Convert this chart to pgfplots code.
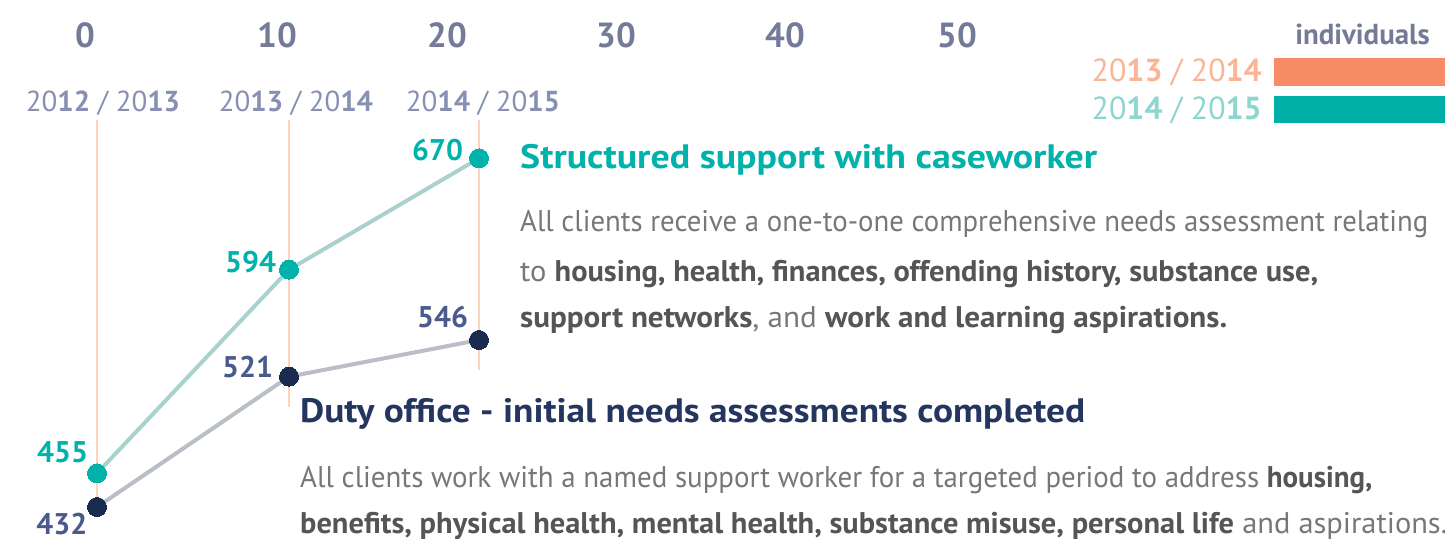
\documentclass[border=0pt]{standalone}
\usepackage{pgfplots}
\pgfplotsset{compat=1.18}
\usepackage{pgfplotstable}
\usepackage{fontspec}
\setmainfont{PT Sans}

\definecolor{tealmark}{HTML}{00B2A9}
\definecolor{tealline}{HTML}{A9D2CF}
\definecolor{navymark}{HTML}{1A2B50}
\definecolor{navyline}{HTML}{B9BEC7}
\definecolor{navytext}{HTML}{4A5A8C}
\definecolor{navytitle}{HTML}{243560}
\definecolor{tickc}{HTML}{737B98}
\definecolor{yearc}{HTML}{8790B3}
\definecolor{guide}{HTML}{FCD3BD}
\definecolor{bodyc}{HTML}{777777}
\definecolor{bodyb}{HTML}{555555}
\definecolor{salmonbar}{HTML}{F58C63}
\definecolor{salmontxt}{HTML}{F9B596}
\definecolor{tealbar}{HTML}{00B0A6}
\definecolor{tealtxt}{HTML}{8DD5CF}

% x in pixels, y in individuals; \Y turns a pixel row into a y value
\newcommand\Y[1]{778.05-#1/1.4651}
\newcommand\fs[1]{\fontsize{#1}{#1}\selectfont}

\pgfplotstableread{
x   y   lab dx    dy
97  455 455 -9    21.6
289 594 594 -13   8
479 670 670 -16   8.6
}\structured
\pgfplotstableread{
x   y   lab dx    dy
97  432 432 -9.7  -17
289 521 521 -16   9.3
479 546 546 -11   23.3
}\duty

\begin{document}
\begin{tikzpicture}
\begin{axis}[width=1445bp, height=552bp, scale only axis,
  xmin=0, xmax=1445, ymin=401.3, ymax=778.05,
  axis x line*=top, axis y line=none, x axis line style={draw=none},
  major tick length=0pt,
  xtick={85,277,447,616,785,957}, xticklabels={0,10,20,30,40,50},
  xticklabel style={anchor=center, yshift=-35bp, font=\bfseries\fs{35}, text=tickc},
  clip=false,
  every node near coord/.append style={anchor=east, inner sep=0pt,
    xshift=\dx bp, yshift=\dy bp, font=\bfseries\fs{30}},
  visualization depends on={\thisrow{dx} \as \dx},
  visualization depends on={\thisrow{dy} \as \dy}]

% year guides
\draw[guide, line width=2bp] (axis cs:97,{\Y{120}}) -- (axis cs:97,{\Y{505}});
\draw[guide, line width=2bp] (axis cs:289,{\Y{120}}) -- (axis cs:289,{\Y{407}});
\draw[guide, line width=2bp] (axis cs:479,{\Y{120}}) -- (axis cs:479,{\Y{370}});

\addplot[navyline, line width=4bp, mark=*, mark size=9.5bp,
  mark options={fill=navymark, draw=navymark, line width=0pt},
  point meta=explicit symbolic, nodes near coords,
  nodes near coords style={text=navytext}]
  table[x=x, y=y, meta=lab] {\duty};
\addplot[tealline, line width=4bp, mark=*, mark size=9.5bp,
  mark options={fill=tealmark, draw=tealmark, line width=0pt},
  point meta=explicit symbolic, nodes near coords,
  nodes near coords style={text=tealmark}]
  table[x=x, y=y, meta=lab] {\structured};

% year labels
\node[anchor=base, inner sep=0pt, text=yearc, font=\fs{29}]
  at (axis cs:103,{\Y{112}}) {20{\bfseries 12} / 20{\bfseries 13}};
\node[anchor=base, inner sep=0pt, text=yearc, font=\fs{29}]
  at (axis cs:296,{\Y{112}}) {20{\bfseries 13} / 20{\bfseries 14}};
\node[anchor=base, inner sep=0pt, text=yearc, font=\fs{29}]
  at (axis cs:483,{\Y{112}}) {20{\bfseries 14} / 20{\bfseries 15}};

% legend
\node[anchor=base east, inner sep=0pt, text=tickc, font=\bfseries\fs{29}]
  at (axis cs:1430,{\Y{45}}) {individuals};
\fill[salmonbar] (axis cs:1274,{\Y{58}}) rectangle (axis cs:1445,{\Y{86}});
\fill[tealbar] (axis cs:1274,{\Y{96}}) rectangle (axis cs:1445,{\Y{123}});
\node[anchor=base east, inner sep=0pt, text=salmontxt, font=\fs{32}]
  at (axis cs:1262,{\Y{82}}) {20{\bfseries 13} / 20{\bfseries 14}};
\node[anchor=base east, inner sep=0pt, text=tealtxt, font=\fs{32}]
  at (axis cs:1262,{\Y{120}}) {20{\bfseries 14} / 20{\bfseries 15}};

% structured support text
\node[anchor=base west, inner sep=0pt, text=tealmark, font=\bfseries\fs{34}]
  at (axis cs:520,{\Y{168}}) {\resizebox{577bp}{\height}{Structured support with caseworker}};
\node[anchor=base west, inner sep=0pt, text=bodyc, font=\fs{30}]
  at (axis cs:520,{\Y{231}}) {\resizebox{908bp}{\height}{All clients receive a one-to-one comprehensive needs assessment relating}};
\node[anchor=base west, inner sep=0pt, text=bodyc, font=\fs{30}]
  at (axis cs:520,{\Y{281}}) {\resizebox{798bp}{\height}{to \textcolor{bodyb}{\bfseries housing, health, finances, offending history, substance use,}}};
\node[anchor=base west, inner sep=0pt, text=bodyc, font=\fs{30}]
  at (axis cs:520,{\Y{327}}) {\resizebox{707bp}{\height}{\textcolor{bodyb}{\bfseries support networks}, and \textcolor{bodyb}{\bfseries work and learning aspirations.}}};

% duty office text
\node[anchor=base west, inner sep=0pt, text=navytitle, font=\bfseries\fs{34}]
  at (axis cs:300,{\Y{422}}) {\resizebox{785bp}{\height}{Duty office - initial needs assessments completed}};
\node[anchor=base west, inner sep=0pt, text=bodyc, font=\fs{30}]
  at (axis cs:300,{\Y{487}}) {\resizebox{1072bp}{\height}{All clients work with a named support worker for a targeted period to address \textcolor{bodyb}{\bfseries housing,}}};
\node[anchor=base west, inner sep=0pt, text=bodyc, font=\fs{30}]
  at (axis cs:300,{\Y{533}}) {\resizebox{1147bp}{\height}{\textcolor{bodyb}{\bfseries benefits, physical health, mental health, substance misuse, personal life} and aspirations.}};
\end{axis}
\pgfresetboundingbox
\path[use as bounding box] (current axis.south west) rectangle (current axis.north east);
\end{tikzpicture}
\end{document}
